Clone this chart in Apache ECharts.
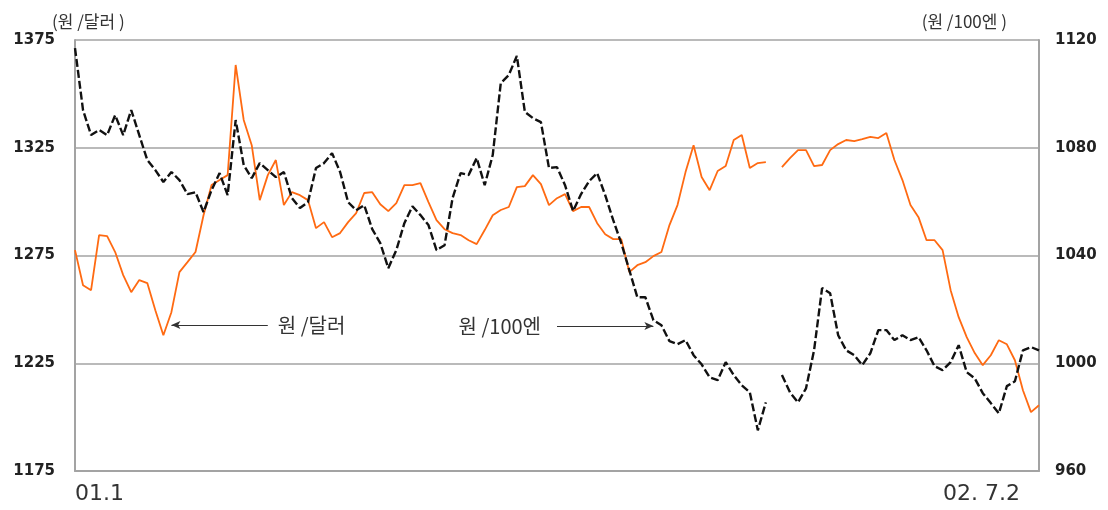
<!DOCTYPE html>
<html>
<head>
<meta charset="utf-8">
<script src="https://cdn.jsdelivr.net/npm/echarts@6/dist/echarts.min.js"></script>
<style>
html,body{margin:0;padding:0;background:#fff;}
#chart{width:1108px;height:510px;}
</style>
</head>
<body>
<div id="chart"></div>
<script>
// 원/달러 (left axis), 01.1 ~ 02.7.2
const usdKrw = [1277.5,1261.2,1258.9,1284.5,1284,1276.6,1265.9,1258,1263.6,1262.2,
1249.6,1238,1248.7,1267.3,1271.9,1276.6,1293.7,1307.7,1310,1312.3,
1363.4,1337.9,1326.2,1300.7,1312.3,1319.3,1298.4,1304.4,1303,1300.7,
1287.7,1290.5,1283.5,1285.4,1290.5,1294.7,1304,1304.4,1298.8,1295.6,
1299.3,1307.7,1307.7,1308.6,1299.8,1291.4,1287.2,1285.4,1284.5,1282.1,
1280.3,1286.8,1293.7,1296.1,1297.5,1306.7,1307.2,1312.3,1308.1,1298.4,
1301.6,1303.5,1295.6,1297.5,1297.5,1290,1284.9,1282.6,1282.6,1267.3,
1270.5,1271.9,1274.7,1276.6,1289.1,1298.4,1313.7,1326.2,1311.4,1305.3,
1314.2,1316.5,1328.6,1330.9,1315.6,1317.9,1318.3,null,1316,1320.2,
1323.9,1323.9,1316.5,1317,1323.9,1326.7,1328.6,1328.1,1329,1330,
1329.5,1331.8,1319.3,1310,1298.4,1292.8,1282.1,1282.1,1277.5,1258.9,
1246.4,1237.1,1229.7,1224.1,1228.7,1235.7,1233.8,1226.4,1212.5,1202.3,1205.5];

// 원/100엔 (right axis)
const jpyKrw = [1117,1094,1084.7,1086.6,1084.7,1092.1,1084.7,1094,1084.7,1075.4,
1071.7,1067.3,1071,1068,1062.8,1063.5,1056.1,1064.3,1070.6,1062.4,
1090.3,1073.6,1068.7,1074.3,1071.7,1069.1,1071,1061.3,1057.6,1059.8,
1072.5,1074.3,1078,1071,1059.8,1056.8,1058.7,1049.8,1044.6,1035.3,
1042,1052,1058.3,1055,1051.3,1042,1043.8,1061.3,1070.6,1069.9,
1076.2,1066.1,1077.3,1104,1107,1114.1,1093.3,1091,1089.5,1072.5,
1072.8,1066.1,1056.5,1062.8,1067.6,1070.6,1062.4,1053.1,1044.6,1034.6,
1024.5,1024.5,1016,1014.1,1008.2,1007.1,1008.6,1003,999.6,994.8,
993.7,1000.4,995.6,991.8,989.2,975.1,985.5,null,995.6,989.2,
985.5,990.7,1004.8,1027.9,1026,1010.4,1004.8,1003,999.3,1003.7,
1012.3,1012.3,1008.6,1010.4,1008.6,1009.7,1004.8,998.9,997.4,1000.4,
1006.7,996.7,994.4,988.9,985.2,981.4,991.5,993.3,1004.8,1006,1004.8];

const xTickLabels = ['01.1', '02. 7.2'];
const leftAxisName = '(원 /달러 )';
const rightAxisName = '(원 /100엔 )';
const usdLabel = '원 /달러';
const jpyLabel = '원 /100엔';
const usdArrow = {from: 24, to: 12, level: 1242.7};
const jpyArrow = {from: 60, to: 72, level: 1013.8};

const N = usdKrw.length;
const categories = usdKrw.map((_, i) => String(i));

const chart = echarts.init(document.getElementById('chart'), null, {renderer: 'canvas'});
const gridColor = '#a3a3a3';
const numFont = {fontFamily: 'DejaVu Sans', fontWeight: 'bold', fontSize: 15, color: '#222',
                 formatter: (v) => String(v)};
const krFont = 'Noto Sans CJK KR';

chart.setOption({
  animation: false,
  backgroundColor: '#ffffff',
  grid: {left: 75, right: 69, top: 40, bottom: 39, containLabel: false},
  xAxis: {
    type: 'category',
    data: categories,
    boundaryGap: false,
    axisLine: {show: true, lineStyle: {color: gridColor, width: 2}},
    axisTick: {show: false},
    splitLine: {show: false},
    axisLabel: {
      interval: (i) => i === 0 || i === N - 1,
      formatter: (v, i) => i === 0 ? xTickLabels[0] : (i === N - 1 ? xTickLabels[1] : ''),
      alignMinLabel: 'left',
      alignMaxLabel: 'right',
      showMinLabel: true,
      showMaxLabel: true,
      margin: 12,
      padding: [0, 19, 0, 0],
      fontFamily: 'DejaVu Sans',
      fontSize: 22,
      color: '#333'
    }
  },
  yAxis: [
    {
      type: 'value', min: 1175, max: 1375, interval: 50,
      position: 'left',
      name: leftAxisName,
      nameLocation: 'end',
      nameGap: 10,
      nameTextStyle: {fontFamily: krFont, fontSize: 17, color: '#333', align: 'left', padding: [0, 0, 0, -23]},
      axisLine: {show: true, lineStyle: {color: gridColor, width: 2}},
      axisTick: {show: false},
      axisLabel: Object.assign({margin: 20}, numFont),
      splitLine: {show: true, lineStyle: {color: gridColor, width: 1.5}}
    },
    {
      type: 'value', min: 960, max: 1120, interval: 40,
      position: 'right',
      name: rightAxisName,
      nameLocation: 'end',
      nameGap: 10,
      nameTextStyle: {fontFamily: krFont, fontSize: 17, color: '#333', align: 'right', padding: [0, 32, 0, 0]},
      axisLine: {show: true, lineStyle: {color: gridColor, width: 2}},
      axisTick: {show: false},
      axisLabel: Object.assign({margin: 16}, numFont),
      splitLine: {show: false}
    }
  ],
  series: [
    {
      name: usdLabel,
      type: 'line',
      yAxisIndex: 0,
      data: usdKrw,
      showSymbol: false,
      symbol: 'none',
      connectNulls: false,
      lineStyle: {color: '#ff6a12', width: 1.8},
      z: 3,
      markLine: {
        silent: true,
        animation: false,
        symbol: ['none', 'arrow'],
        symbolSize: [6, 9],
        lineStyle: {color: '#333', width: 1, type: 'solid'},
        label: {show: true, position: 'start', distance: 10, formatter: usdLabel,
                fontFamily: krFont, fontSize: 20, color: '#333'},
        data: [[{coord: [usdArrow.from, usdArrow.level]}, {coord: [usdArrow.to, usdArrow.level]}]]
      }
    },
    {
      name: jpyLabel,
      type: 'line',
      yAxisIndex: 1,
      data: jpyKrw,
      showSymbol: false,
      symbol: 'none',
      connectNulls: false,
      lineStyle: {color: '#111', width: 2.4, type: [8, 3]},
      z: 4,
      markLine: {
        silent: true,
        animation: false,
        symbol: ['none', 'arrow'],
        symbolSize: [6, 9],
        lineStyle: {color: '#333', width: 1, type: 'solid'},
        label: {show: true, position: 'start', distance: 16, formatter: jpyLabel,
                fontFamily: krFont, fontSize: 20, color: '#333'},
        data: [[{coord: [jpyArrow.from, jpyArrow.level]}, {coord: [jpyArrow.to, jpyArrow.level]}]]
      }
    }
  ]
});
</script>
</body>
</html>
